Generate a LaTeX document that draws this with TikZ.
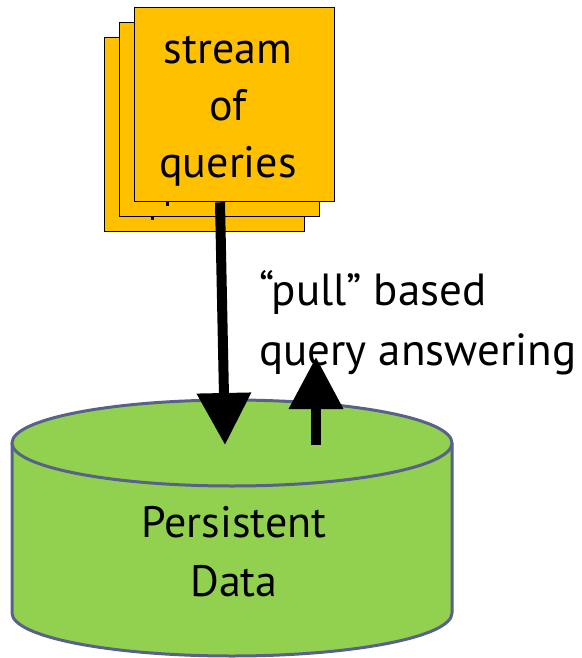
\documentclass[tikz,border=0pt]{standalone}
\usepackage{fontspec}
\setmainfont{PT Sans}
\usetikzlibrary{arrows.meta}
\definecolor{paperfill}{RGB}{255,192,0}
\definecolor{dbfill}{RGB}{146,208,80}
\definecolor{dbline}{RGB}{88,97,138}
\begin{document}
\begin{tikzpicture}[x=1pt,y=-1pt,
  paper/.style={draw=black,line width=1.5pt,fill=paperfill,minimum width=200pt,minimum height=194pt,inner sep=0pt},
  ptext/.style={align=center,inner sep=0pt,font=\fontsize{44}{57}\selectfont},
  dbtext/.style={align=center,inner sep=0pt,font=\fontsize{44}{59}\selectfont},
  lbl/.style={align=left,inner sep=0pt,font=\fontsize{45}{60}\selectfont},
  bigarrow/.style={line width=10pt,-{Triangle[width=52pt,length=52pt]}}]
\useasboundingbox (0,0) rectangle (581,658);
% stack of query sheets
\node[paper] (p3) at (204.5,134.5) {};
\fill (150.5,216.5) rectangle (154,220);
\node[paper] (p2) at (219.5,119.5) {};
\fill (165.5,202) rectangle (169,205.5);
\node[paper] (p1) at (234.5,104.5) {};
\node[ptext] (t1) at (228,111) {stream\\of\\queries};
% database cylinder
\fill[dbfill] (12,443) rectangle (452,613);
\fill[dbfill] (232,613) ellipse [x radius=220pt,y radius=43pt];
\draw[dbline,line width=3pt] (12,443) -- (12,613) arc[start angle=180,end angle=360,x radius=220pt,y radius=43pt] -- (452,443);
\draw[dbline,line width=3pt,fill=dbfill] (232,443) ellipse [x radius=220pt,y radius=43pt];
\node[dbtext] (db) at (234,552) {Persistent\\Data};
% label
\node[lbl,anchor=west] (lab) at (259,323) {“pull” based\\query answering};
% arrows
\coordinate (dtip) at (225,445);
\coordinate (ubase) at (316,445);
\coordinate (utip) at (316,357);
\draw[bigarrow] ([xshift=-14.5pt]p1.south) -- (dtip);
\draw[bigarrow] (ubase) -- (utip);
\end{tikzpicture}
\end{document}
